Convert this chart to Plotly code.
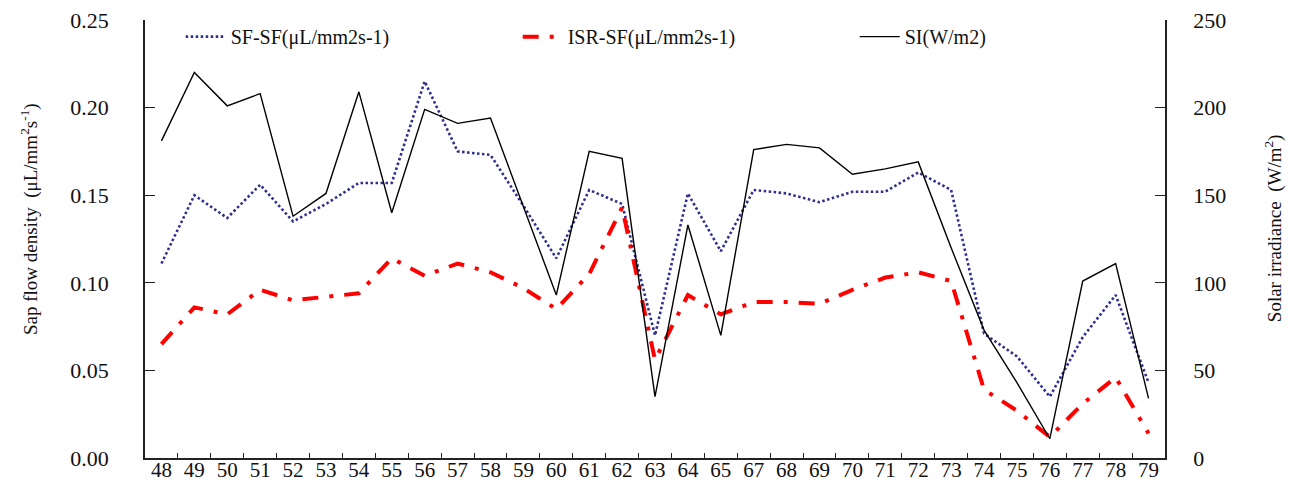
import plotly.graph_objects as go

days = ["48", "49", "50", "51", "52", "53", "54", "55", "56", "57", "58", "59", "60", "61", "62", "63",
        "64", "65", "67", "68", "69", "70", "71", "72", "73", "74", "75", "76", "77", "78", "79"]

sf_sf = [0.111, 0.150, 0.137, 0.156, 0.135, 0.145, 0.157, 0.157, 0.215, 0.175, 0.173, 0.144, 0.114, 0.153, 0.145, 0.070,
         0.151, 0.118, 0.153, 0.151, 0.146, 0.152, 0.152, 0.163, 0.153, 0.071, 0.058, 0.035, 0.069, 0.093, 0.043]

isr_sf = [0.065, 0.086, 0.082, 0.096, 0.090, 0.092, 0.094, 0.114, 0.104, 0.111, 0.106, 0.097, 0.085, 0.105, 0.143, 0.056,
          0.093, 0.082, 0.089, 0.089, 0.088, 0.096, 0.103, 0.106, 0.101, 0.039, 0.027, 0.012, 0.031, 0.046, 0.014]

si = [181, 220, 201, 208, 138, 151, 209, 140, 199, 191, 194, 144, 93, 175, 171, 35,
      133, 70, 176, 179, 177, 162, 165, 169, 120, 73, 43, 11, 101, 111, 34]

FONT = "Liberation Serif"

fig = go.Figure()
fig.add_trace(go.Scatter(x=days, y=sf_sf, name="SF-SF(μL/mm2s-1)", mode="lines",
                         line=dict(color="#2f2f8f", width=2.6, dash="2.5px,2.5px")))
fig.add_trace(go.Scatter(x=days, y=isr_sf, name="ISR-SF(μL/mm2s-1)", mode="lines",
                         line=dict(color="#ff0000", width=4, dash="16px,11px,4px,11px")))
fig.add_trace(go.Scatter(x=days, y=si, name="SI(W/m2)", mode="lines", yaxis="y2",
                         line=dict(color="#000000", width=1.4)))

fig.update_layout(
    width=1297, height=497,
    margin=dict(l=145, r=132, t=20, b=39, autoexpand=False),
    paper_bgcolor="white", plot_bgcolor="white",
    font=dict(family=FONT, size=20, color="#111111"),
    showlegend=True,
    legend=dict(orientation="h", x=0.035, y=0.962, xanchor="left", yanchor="middle",
                font=dict(family=FONT, size=20, color="#111111"),
                bgcolor="rgba(0,0,0,0)", entrywidth=282, entrywidthmode="pixels",
                itemwidth=40, tracegroupgap=0),
    xaxis=dict(type="category", range=[-0.5, 30.5], showline=True, linecolor="#222222", linewidth=1.5,
               ticks="inside", ticklen=5, tickwidth=1.2, tickcolor="#222222", tickson="boundaries",
               showgrid=False, zeroline=False, ticklabelstandoff=-8,
               tickfont=dict(family=FONT, size=21)),
    yaxis=dict(range=[0, 0.25], dtick=0.05, tickformat=".2f", showline=True, linecolor="#222222",
               linewidth=1.5, ticks="inside", ticklen=10, tickwidth=1.2, tickcolor="#222222",
               showgrid=False, zeroline=False, ticklabelstandoff=30,
               tickfont=dict(family=FONT, size=22)),
    yaxis2=dict(range=[0, 250], dtick=50, overlaying="y", side="right", showline=True,
                linecolor="#222222", linewidth=1.5, ticks="inside", ticklen=10, tickwidth=1.2,
                tickcolor="#222222", showgrid=False, zeroline=False, ticklabelstandoff=22,
                tickfont=dict(family=FONT, size=22)),
    annotations=[
        dict(text="Sap flow density  (μL/mm<sup>2</sup>s<sup>-1</sup>)", textangle=-90,
             xref="paper", yref="paper", x=-0.113, y=0.545, showarrow=False,
             font=dict(family=FONT, size=19, color="#111111"), xanchor="center", yanchor="middle"),
        dict(text="Solar irradiance  (W/m<sup>2</sup>)", textangle=-90,
             xref="paper", yref="paper", x=1.106, y=0.525, showarrow=False,
             font=dict(family=FONT, size=19, color="#111111"), xanchor="center", yanchor="middle"),
    ],
)

fig.write_html("out.html")
